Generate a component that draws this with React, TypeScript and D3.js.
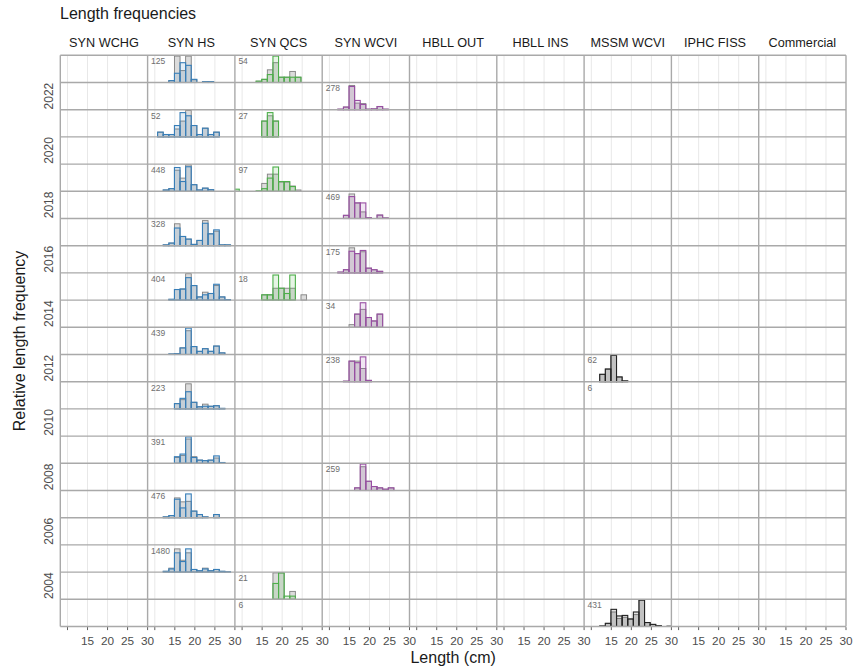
import React, { useEffect, useRef } from 'react';
import * as d3 from 'd3';

// Facet columns (surveys) and rows (years, newest at top)
const surveys = ['SYN WCHG', 'SYN HS', 'SYN QCS', 'SYN WCVI', 'HBLL OUT', 'HBLL INS', 'MSSM WCVI', 'IPHC FISS', 'Commercial'];
const years = [2023, 2022, 2021, 2020, 2019, 2018, 2017, 2016, 2015, 2014, 2013, 2012, 2011, 2010, 2009, 2008, 2007, 2006, 2005, 2004, 2003];
const yearLabels = [2022, 2020, 2018, 2016, 2014, 2012, 2010, 2008, 2006, 2004];
const xTicks = [10, 15, 20, 25, 30];
const xTickLabels = ['', '15', '20', '25', '30'];
const gridBreaks = [10, 15, 20, 25];
const binEdges = [7.9, 9.3, 10.7, 12.1, 13.5, 14.9, 16.3, 17.7, 19.1, 20.5, 21.9, 23.3, 24.7, 26.1, 27.5, 28.9, 30.3];

// relative frequencies per bin: raw (grey) and weighted (coloured)
const synHs = [
  { year: 2023, n: 125, raw: [0, 0, 0, 0, .07, 1, .45, 1, .1, 0, .03, .03, 0, 0, 0, 0], wtd: [0, 0, 0, 0, .07, .35, .75, .65, .12, 0, .03, .03, 0, 0, 0, 0] },
  { year: 2021, n: 52, raw: [0, 0, .18, .09, .09, .3, .6, 1, .43, .09, .33, .09, .18, 0, 0, 0], wtd: [0, 0, .18, .09, .09, .43, .92, .8, .43, .09, .33, .09, .18, 0, 0, 0] },
  { year: 2019, n: 448, raw: [0, 0, 0, .05, .1, .8, .5, 1, .25, .05, .12, .06, 0, 0, 0, 0], wtd: [0, 0, 0, .05, .1, .9, .37, .93, .25, .05, .12, .06, 0, 0, 0, 0] },
  { year: 2017, n: 328, raw: [0, 0, 0, .03, .1, .83, .35, .25, .05, .2, .95, .45, .55, .03, .03, 0], wtd: [0, 0, 0, .03, .1, .67, .35, .25, .05, .2, .85, .45, .6, .03, .03, 0] },
  { year: 2015, n: 404, raw: [0, 0, 0, 0, .03, .4, .42, 1, .55, .12, .3, .25, .55, .12, .02, 0], wtd: [0, 0, 0, 0, .03, .4, .42, .85, .55, .12, .2, .25, .6, .12, .02, 0] },
  { year: 2013, n: 439, raw: [0, 0, 0, 0, .02, .03, .25, .9, .3, .12, .22, .12, .32, .06, 0, 0], wtd: [0, 0, 0, 0, .02, .03, .25, 1, .3, .12, .22, .12, .32, .06, 0, 0] },
  { year: 2011, n: 223, raw: [0, 0, 0, 0, 0, .2, .35, .95, .25, .08, .18, .1, .12, .02, 0, 0], wtd: [0, 0, 0, 0, 0, .2, .4, .65, .25, .08, .1, .1, .12, .02, 0, 0] },
  { year: 2009, n: 391, raw: [0, 0, 0, 0, 0, .22, .3, .92, .25, .12, .1, .12, .2, .03, 0, 0], wtd: [0, 0, 0, 0, 0, .25, .35, 1, .22, .12, .1, .12, .28, .03, 0, 0] },
  { year: 2007, n: 476, raw: [0, 0, 0, .03, .08, .75, .6, .62, .25, .12, .03, 0, .12, 0, 0, 0], wtd: [0, 0, 0, .03, .08, .7, .37, .9, .25, .12, .03, 0, .12, 0, 0, 0] },
  { year: 2005, n: 1480, raw: [0, 0, 0, .03, .15, .88, .45, .73, .1, .05, .15, .05, .1, .03, .01, 0], wtd: [0, 0, 0, .03, .12, .73, .4, .88, .1, .05, .12, .05, .1, .03, .01, 0] },
];

const synQcs = [
  { year: 2023, n: 54, raw: [0, 0, 0, 0, .05, .12, .48, .75, .2, .2, .42, .2, 0, 0, 0, 0], wtd: [0, 0, 0, 0, .05, .12, .3, 1, .2, .2, .2, .2, 0, 0, 0, 0] },
  { year: 2021, n: 27, raw: [0, 0, 0, 0, 0, .6, .8, .6, 0, 0, 0, 0, 0, 0, 0, 0], wtd: [0, 0, 0, 0, 0, .6, .92, .6, 0, 0, 0, 0, 0, 0, 0, 0] },
  { year: 2019, n: 97, raw: [0, 0, 0, 0, 0, .3, .65, .65, .35, .35, .2, .05, 0, 0, 0, 0], wtd: [.08, 0, 0, 0, .02, .1, .5, .92, .37, .37, .18, 0, 0, 0, 0, 0] },
  { year: 2015, n: 18, raw: [0, 0, 0, 0, 0, .2, .2, .45, .45, .45, .45, 0, .2, 0, 0, 0], wtd: [0, 0, 0, 0, 0, .2, .2, .95, .45, .25, .95, 0, 0, 0, 0, 0] },
  { year: 2004, n: 21, raw: [0, 0, 0, 0, 0, 0, 0, 1, 1, 0, .3, 0, 0, 0, 0, 0], wtd: [0, 0, 0, 0, 0, 0, 0, .6, 1, .12, .12, 0, 0, 0, 0, 0] },
  { year: 2003, n: 6, raw: [0, 0, 0, 0, 0, 0, 0, 0, 0, 0, 0, 0, 0, 0, 0, 0], wtd: [0, 0, 0, 0, 0, 0, 0, 0, 0, 0, 0, 0, 0, 0, 0, 0] },
];

const synWcvi = [
  { year: 2022, n: 278, raw: [0, 0, 0, .02, .1, .92, .25, .23, .02, .03, .12, .02, 0, 0, 0, 0], wtd: [0, 0, 0, .02, .1, .88, .35, .2, .02, .03, .12, .02, 0, 0, 0, 0] },
  { year: 2018, n: 469, raw: [0, 0, 0, 0, .12, .93, .59, .25, .03, 0, .13, .02, 0, 0, 0, 0], wtd: [0, 0, 0, 0, .12, .83, .59, .59, .03, 0, .13, .02, 0, 0, 0, 0] },
  { year: 2016, n: 175, raw: [0, 0, 0, .03, .12, .95, .73, .8, .18, .12, .06, 0, 0, 0, 0, 0], wtd: [0, 0, 0, .03, .12, .82, .73, .85, .18, .12, .06, 0, 0, 0, 0, 0] },
  { year: 2014, n: 34, raw: [0, 0, 0, 0, 0, .1, .5, .68, .37, .24, .5, 0, 0, 0, 0, 0], wtd: [0, 0, 0, 0, 0, 0, .5, .93, .37, .24, .5, 0, 0, 0, 0, 0] },
  { year: 2012, n: 238, raw: [0, 0, 0, 0, .02, .78, .78, .5, .05, 0, 0, 0, 0, 0, 0, 0], wtd: [0, 0, 0, 0, .02, .78, .72, .94, .05, 0, 0, 0, 0, 0, 0, 0] },
  { year: 2008, n: 259, raw: [0, 0, 0, 0, 0, 0, .1, .9, .35, .15, .1, .05, .1, 0, 0, 0], wtd: [0, 0, 0, 0, 0, 0, .1, 1, .35, .15, .1, .05, .1, 0, 0, 0] },
];

const mssmWcvi = [
  { year: 2012, n: 62, raw: [0, 0, 0, .28, .48, 1, .18, .03, 0, 0, 0, 0, 0, 0, 0, 0], wtd: [0, 0, 0, .28, .48, 1, .18, .03, 0, 0, 0, 0, 0, 0, 0, 0] },
  { year: 2011, n: 6, raw: [0, 0, 0, 0, 0, 0, 0, 0, 0, 0, 0, 0, 0, 0, 0, 0], wtd: [0, 0, 0, 0, 0, 0, 0, 0, 0, 0, 0, 0, 0, 0, 0, 0] },
  { year: 2003, n: 431, raw: [0, 0, 0, .02, .12, .55, .3, .35, .3, .45, 1, .15, .08, .03, 0, .01], wtd: [0, 0, 0, .02, .12, .65, .4, .42, .28, .55, 1, .15, .08, .03, 0, .01] },
];

const histsBySurvey: Record<string, typeof synHs> = {
  'SYN HS': synHs,
  'SYN QCS': synQcs,
  'SYN WCVI': synWcvi,
  'MSSM WCVI': mssmWcvi,
};

const surveyColours: Record<string, string> = {
  'SYN HS': '#377eb8',
  'SYN QCS': '#4daf4a',
  'SYN WCVI': '#984ea3',
  'MSSM WCVI': '#222222',
};

const W = 853;
const H = 671;
const FONT = '"Liberation Sans", Arial, Helvetica, sans-serif';

export default function App() {
  const svgRef = useRef<SVGSVGElement>(null);

  useEffect(() => {
    if (!svgRef.current) return;
    const svg = d3.select(svgRef.current);
    svg.selectAll('*').remove();

    const top = 55.3, bottom = 626.5, left = 60.3, right = 846;

    const col = d3.scaleBand<string>().domain(surveys).range([left, right]);
    const row = d3.scaleBand<number>().domain(years).range([top, bottom]);
    const x = d3.scaleLinear().domain([8.2, 30]).range([0, col.bandwidth()]);
    const h = d3.scaleLinear().domain([0, 1]).range([0, row.bandwidth() - 0.8]);

    const defs = svg.append('defs');
    surveys.forEach((s, i) => {
      defs.append('clipPath').attr('id', `clip-${i}`)
        .append('rect')
        .attr('x', col(s)!).attr('y', top)
        .attr('width', col.bandwidth()).attr('height', bottom - top);
    });

    // vertical grid lines in every panel
    const grid = svg.append('g');
    surveys.forEach(s => {
      grid.selectAll(null).data(gridBreaks).join('line')
        .attr('x1', d => col(s)! + x(d)).attr('x2', d => col(s)! + x(d))
        .attr('y1', top).attr('y2', bottom)
        .attr('stroke', '#e8e8e8').attr('stroke-width', 1);
    });

    // histograms
    surveys.forEach((s, i) => {
      const hists = histsBySurvey[s];
      if (!hists) return;
      const colour = surveyColours[s];
      const g = svg.append('g').attr('clip-path', `url(#clip-${i})`);
      const x0 = col(s)!;

      hists.forEach(d => {
        const base = row(d.year)! + row.bandwidth();
        const draw = (vals: number[], fill: string, fillOpacity: number, stroke: string, sw: number) => {
          const bins = vals.map((v, k) => ({ v, k })).filter(b => b.v > 0);
          g.append('g').selectAll('rect').data(bins).join('rect')
            .attr('x', b => x0 + x(binEdges[b.k]))
            .attr('width', b => x(binEdges[b.k + 1]) - x(binEdges[b.k]))
            .attr('y', b => base - h(b.v))
            .attr('height', b => h(b.v))
            .attr('fill', fill).attr('fill-opacity', fillOpacity)
            .attr('stroke', stroke).attr('stroke-width', sw);
        };
        draw(d.raw, '#dcdcdc', 1, '#808080', 0.9);
        draw(d.wtd, colour, 0.14, colour, 1.1);
      });

      svg.append('g').selectAll('text').data(hists).join('text')
        .attr('x', x0 + 3.5)
        .attr('y', d => row(d.year)! + 8.8)
        .attr('font-family', FONT).attr('font-size', 8.5)
        .attr('fill', '#6e6e6e')
        .text(d => d.n);
    });

    // panel borders
    const borders = svg.append('g').attr('stroke', '#a9a9a9').attr('stroke-width', 1.4);
    borders.selectAll('line.h').data([...years.map(y => row(y)!), bottom]).join('line')
      .attr('class', 'h')
      .attr('x1', left).attr('x2', right)
      .attr('y1', d => d).attr('y2', d => d);
    borders.selectAll('line.v').data([...surveys.map(s => col(s)!), right]).join('line')
      .attr('class', 'v')
      .attr('x1', d => d).attr('x2', d => d)
      .attr('y1', top).attr('y2', bottom);

    // bottom axis per panel
    surveys.forEach(s => {
      const ax = svg.append('g');
      ax.selectAll('line').data(xTicks).join('line')
        .attr('x1', d => col(s)! + x(d)).attr('x2', d => col(s)! + x(d))
        .attr('y1', bottom + 0.7).attr('y2', bottom + 3.6)
        .attr('stroke', '#4d4d4d').attr('stroke-width', 0.9);
      ax.selectAll('text').data(xTicks).join('text')
        .attr('x', d => col(s)! + x(d))
        .attr('y', 645)
        .attr('text-anchor', 'middle')
        .attr('font-family', FONT).attr('font-size', 11.8)
        .attr('fill', '#4d4d4d')
        .text((d, k) => xTickLabels[k]);
    });

    // year labels on the left
    svg.append('g').selectAll('text').data(yearLabels).join('text')
      .attr('transform', d => `translate(53,${row(d)! + row.bandwidth() / 2}) rotate(-90)`)
      .attr('text-anchor', 'middle')
      .attr('font-family', FONT).attr('font-size', 12)
      .attr('fill', '#4d4d4d')
      .text(d => d);

    // strip labels
    svg.append('g').selectAll('text').data(surveys).join('text')
      .attr('x', d => col(d)! + col.bandwidth() / 2)
      .attr('y', 46.5)
      .attr('text-anchor', 'middle')
      .attr('font-family', FONT).attr('font-size', 12.7)
      .attr('fill', '#1a1a1a')
      .text(d => d);

    // titles
    svg.append('text')
      .attr('x', 60).attr('y', 18.5)
      .attr('font-family', FONT).attr('font-size', 16)
      .attr('fill', '#1a1a1a')
      .text('Length frequencies');

    svg.append('text')
      .attr('x', (left + right) / 2).attr('y', 663)
      .attr('text-anchor', 'middle')
      .attr('font-family', FONT).attr('font-size', 16)
      .attr('fill', '#1a1a1a')
      .text('Length (cm)');

    svg.append('text')
      .attr('transform', `translate(25,${(top + bottom) / 2}) rotate(-90)`)
      .attr('text-anchor', 'middle')
      .attr('font-family', FONT).attr('font-size', 16)
      .attr('fill', '#1a1a1a')
      .text('Relative length frequency');
  }, []);

  return (
    <svg
      ref={svgRef}
      width={W}
      height={H}
      style={{ position: 'absolute', left: 0, top: 0, background: '#ffffff' }}
    />
  );
}
